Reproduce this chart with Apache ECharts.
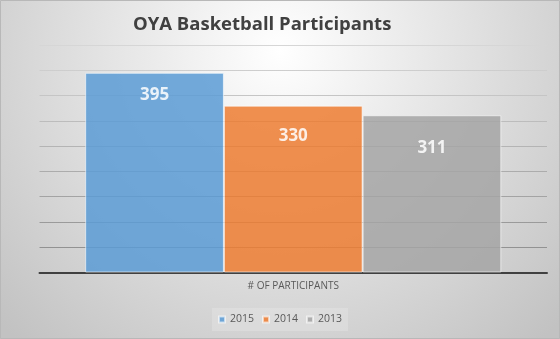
<!DOCTYPE html>
<html>
<head>
<meta charset="utf-8">
<script src="https://cdn.jsdelivr.net/npm/echarts@6/dist/echarts.min.js"></script>
<style>
  html, body { margin: 0; padding: 0; background: #ffffff; }
  #chart { width: 560px; height: 339px; }
</style>
</head>
<body>
<div id="chart"></div>
<script>
// Participant counts per season
const categories = ['# OF PARTICIPANTS'];
const seriesNames = ['2015', '2014', '2013'];
const values2015 = [395];
const values2014 = [330];
const values2013 = [311];

const seriesValues = [values2015, values2014, values2013];
const seriesColors = ['#5B9BD5', '#ED7D31', '#A5A5A5'];
const labelDistances = [14, 22, 24];

const chart = echarts.init(document.getElementById('chart'), null, { renderer: 'canvas' });

const series = seriesNames.map((name, i) => ({
  name: name,
  type: 'bar',
  data: seriesValues[i],
  barGap: '0%',
  barCategoryGap: '18%',
  itemStyle: {
    color: seriesColors[i],
    opacity: 0.85,
    borderColor: 'rgba(255,255,255,0.7)',
    borderWidth: 1
  },
  label: {
    show: true,
    position: 'insideTop',
    distance: labelDistances[i],
    color: '#ffffff',
    fontSize: 17,
    fontWeight: 'bold',
    fontFamily: 'Open Sans'
  },
  emphasis: { disabled: true }
}));

chart.setOption({
  animation: false,
  backgroundColor: {
    type: 'radial',
    x: 0.5, y: 0.15, r: 1.15,
    colorStops: [
      { offset: 0, color: '#ffffff' },
      { offset: 1, color: '#c2c2c2' }
    ]
  },
  title: {
    text: 'OYA Basketball Participants',
    left: 128,
    top: 10,
    textStyle: {
      fontFamily: 'Open Sans',
      fontSize: 18.5,
      fontWeight: 'bold',
      color: '#404040'
    }
  },
  legend: {
    data: seriesNames,
    bottom: 8,
    left: 'center',
    icon: 'rect',
    itemWidth: 6,
    itemHeight: 6,
    itemGap: 8,
    padding: [6, 6],
    backgroundColor: 'rgba(255,255,255,0.18)',
    textStyle: { fontFamily: 'Open Sans', fontSize: 10.5, color: '#595959' }
  },
  grid: { left: 39.5, right: 13, top: 45, bottom: 66.5, containLabel: false },
  xAxis: {
    type: 'category',
    data: categories,
    axisLine: { show: true, lineStyle: { color: '#404040', width: 2 } },
    axisTick: { show: false },
    axisLabel: { fontFamily: 'Open Sans', fontSize: 10, color: '#595959', margin: 9 }
  },
  yAxis: {
    type: 'value',
    min: 0,
    max: 450,
    interval: 50,
    axisLabel: { show: false },
    axisLine: { show: false },
    axisTick: { show: false },
    splitLine: {
      lineStyle: {
        width: 1,
        color: {
          type: 'linear', global: true,
          x: 0, y: 45, x2: 0, y2: 272,
          colorStops: [
            { offset: 0, color: '#d6d6d6' },
            { offset: 1, color: '#8a8a8a' }
          ]
        }
      }
    }
  },
  graphic: [{
    type: 'rect',
    silent: true,
    z: 100,
    shape: { x: 0.5, y: 0.5, width: 559, height: 338 },
    style: { fill: null, stroke: '#b8b8b8', lineWidth: 1 }
  }],
  series: series
});
</script>
</body>
</html>
